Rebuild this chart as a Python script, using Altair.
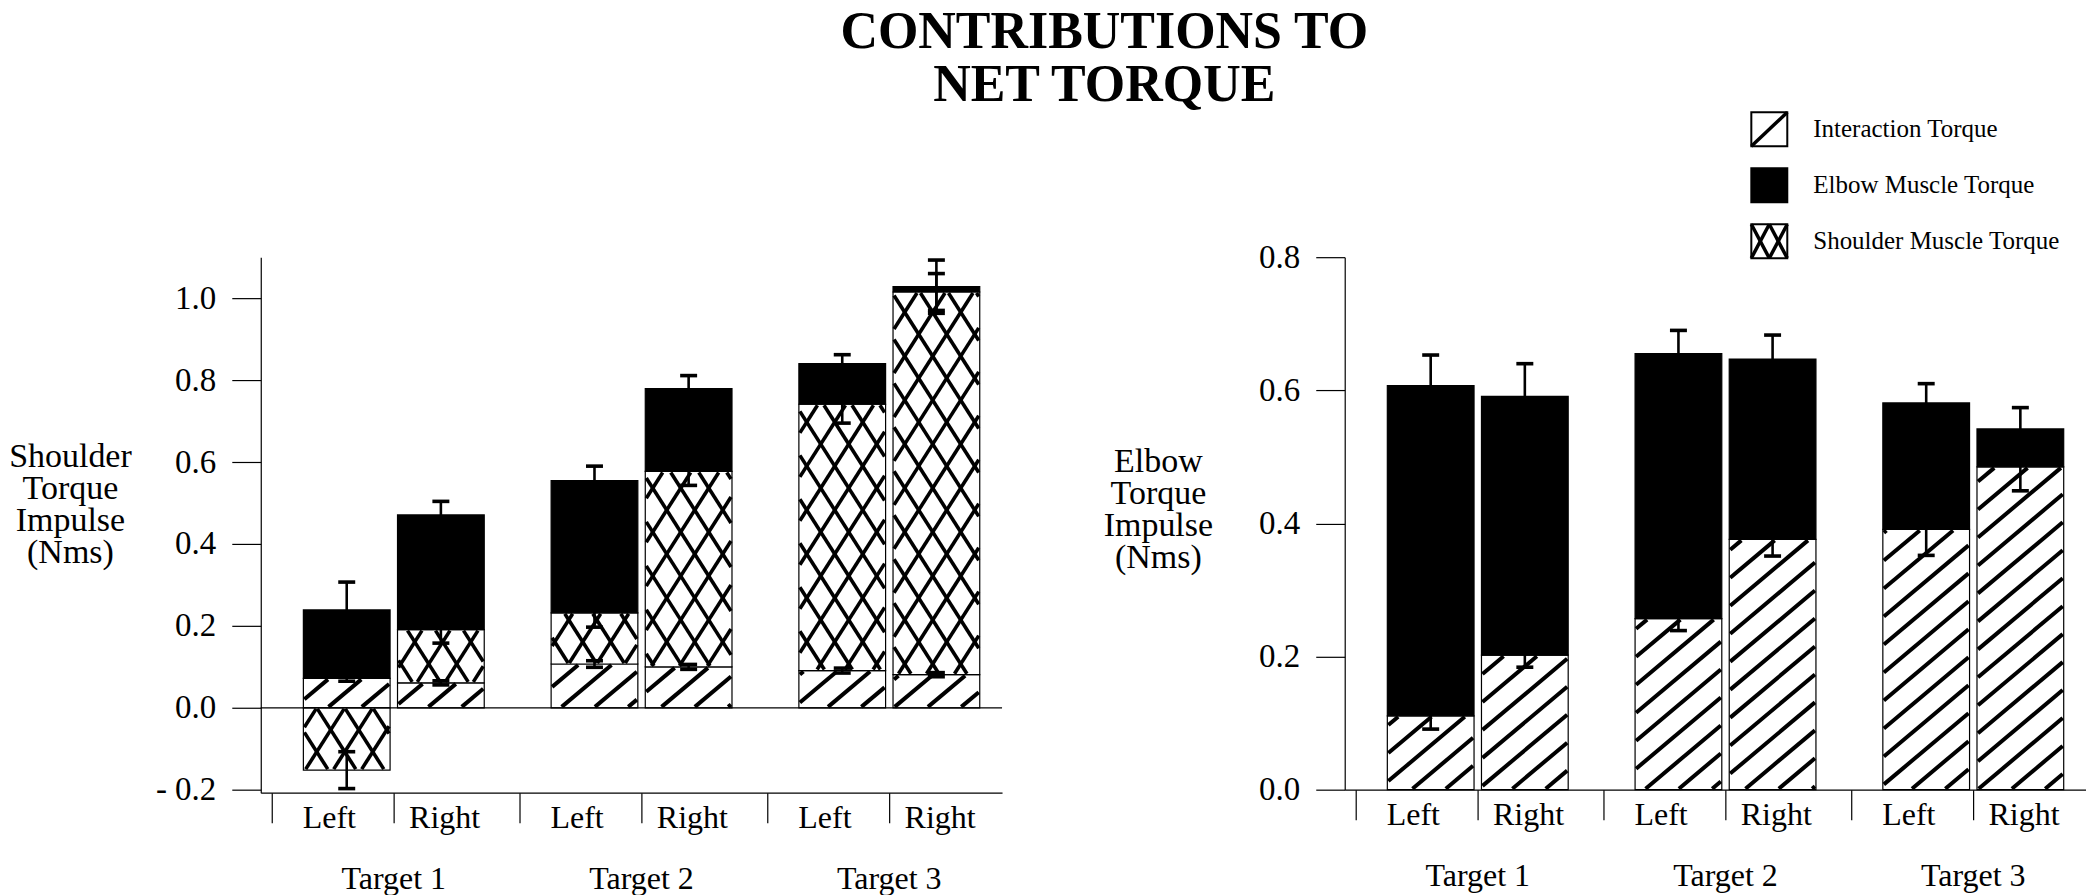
import math
import altair as alt
import pandas as pd

# ---------------- data ----------------
targets = ["Target 1", "Target 2", "Target 3"]
sides = ["Left", "Right"]
legend_labels = ["Interaction Torque", "Elbow Muscle Torque", "Shoulder Muscle Torque"]

# bar order: T1 Left, T1 Right, T2 Left, T2 Right, T3 Left, T3 Right
sh_interaction = [0.072, 0.061, 0.107, 0.100, 0.091, 0.081]
sh_shoulder = [-0.152, 0.130, 0.125, 0.477, 0.650, 0.934]
sh_elbow = [0.167, 0.280, 0.323, 0.202, 0.099, 0.013]
sh_interaction_err = [0.007, 0.005, 0.008, 0.006, 0.006, 0.005]
sh_shoulder_err = [0.045, 0.033, 0.035, 0.034, 0.046, 0.045]
sh_elbow_err = [0.068, 0.033, 0.035, 0.032, 0.022, 0.065]

el_interaction = [0.111, 0.202, 0.257, 0.376, 0.391, 0.485]
el_elbow = [0.496, 0.389, 0.398, 0.271, 0.190, 0.057]
el_interaction_err = [0.020, 0.018, 0.018, 0.025, 0.039, 0.036]
el_elbow_err = [0.046, 0.049, 0.035, 0.036, 0.029, 0.032]

sh_yticks = [-0.2, 0.0, 0.2, 0.4, 0.6, 0.8, 1.0]
el_yticks = [0.0, 0.2, 0.4, 0.6, 0.8]

# ---------------- layout constants ----------------
FONT = "Liberation Serif"
PW = 742            # plot width (px)
XW = 2.992          # x domain (group steps)
STEP, BAR0, BARW, BARGAP = 1.0, 0.172, 0.35, 0.03
CAPW = 0.0685
LH, L_DOM = 536, [-0.207, 1.1]
RH, R_DOM = 533, [0.0, 0.8]
XS = PW / XW

bars = []
for g, t in enumerate(targets):
    for s, side in enumerate(sides):
        x0 = g * STEP + BAR0 + s * (BARW + BARGAP)
        bars.append((t, side, x0, x0 + BARW))


def stack(components):
    rows = []
    for i, (t, side, x0, x1) in enumerate(bars):
        pos = neg = 0.0
        for name, vals, errs in components:
            v = vals[i]
            if v >= 0:
                y0, y1 = pos, pos + v
                pos = y1
            else:
                y0, y1 = neg, neg + v
                neg = y1
            rows.append(dict(target=t, side=side, comp=name, x0=x0, x1=x1,
                             y0=y0, y1=y1, err=errs[i], xc=(x0 + x1) / 2))
    return pd.DataFrame(rows)


def seg_lines(X0, X1, Y0, Y1, s, d):
    cs = [Y - s * X for X in (X0, X1) for Y in (Y0, Y1)]
    cmin, cmax = min(cs), max(cs)
    out = []
    for k in range(math.ceil(cmin / d), math.floor(cmax / d) + 1):
        c = k * d
        xa, xb = (Y0 - c) / s, (Y1 - c) / s
        a = max(X0, min(xa, xb))
        b = min(X1, max(xa, xb))
        if b - a > 0.5:
            out.append((a, s * a + c, b, s * b + c))
    return out


def pattern_df(df, comp, ys, families):
    rows = []
    for _, r in df[df.comp == comp].iterrows():
        X0, X1 = r.x0 * XS + 1, r.x1 * XS - 1
        Y0, Y1 = min(r.y0, r.y1) * ys + 1, max(r.y0, r.y1) * ys - 1
        if Y1 - Y0 < 2:
            continue
        for s, d in families:
            for a, ya, b, yb in seg_lines(X0, X1, Y0, Y1, s, d):
                rows.append(dict(x=a / XS, y=ya / ys, x2=b / XS, y2=yb / ys))
    return pd.DataFrame(rows)


def error_dfs(df):
    stems = pd.DataFrame(dict(xc=df.xc, lo=df.y1 - df.err, hi=df.y1 + df.err))
    caps = pd.concat([
        pd.DataFrame(dict(cx0=df.xc - CAPW / 2, cx1=df.xc + CAPW / 2, cy=df.y1 - df.err)),
        pd.DataFrame(dict(cx0=df.xc - CAPW / 2, cx1=df.xc + CAPW / 2, cy=df.y1 + df.err)),
    ])
    return stems, caps


def panel(df, ydom, H, yticks, ytitle, tx, ty, zero_line=False, extra=None):
    ys = H / (ydom[1] - ydom[0])
    xsc = alt.Scale(domain=[0, XW], nice=False, zero=False)
    ysc = alt.Scale(domain=ydom, nice=False, zero=False)
    xticks = [g * STEP + 0.045 for g in range(3)] + \
             [g * STEP + BAR0 + BARW + BARGAP / 2 for g in range(3)]
    xaxis = alt.Axis(values=xticks, labels=False, tickSize=30, domain=True,
                     grid=False, title=None)
    yaxis = alt.Axis(values=yticks, tickSize=29, labelPadding=16, grid=False,
                     labelExpr="datum.value < 0 ? '- ' + format(-datum.value, '.1f') : format(datum.value, '.1f')",
                     title=ytitle, titleAngle=0, titleAlign="center",
                     titleBaseline="middle", titleX=tx, titleY=ty,
                     titleFontSize=34, titleLineHeight=32)

    def X(f):
        return alt.X(f, scale=xsc, axis=xaxis)

    def Y(f):
        return alt.Y(f, scale=ysc, axis=yaxis)

    rects = alt.Chart(df).mark_rect(stroke="black", strokeWidth=1.2).encode(
        x=X("x0:Q"), x2="x1:Q", y=Y("y0:Q"), y2="y1:Q",
        fill=alt.Fill("comp:N", scale=alt.Scale(domain=legend_labels,
                                                range=["white", "black", "white"]),
                      legend=None),
    )
    layers = [rects]

    hatch = pattern_df(df, legend_labels[0], ys, [(0.84, 28.0)])
    cross = pattern_df(df, legend_labels[2], ys, [(1.57, 44.0), (-1.57, 44.0)])
    for pdf, w in ((hatch, 4.0), (cross, 3.6)):
        if len(pdf):
            layers.append(alt.Chart(pdf).mark_rule(color="black", strokeWidth=w, strokeCap="butt").encode(
                x=X("x:Q"), x2="x2:Q", y=Y("y:Q"), y2="y2:Q"))

    if zero_line:
        layers.append(alt.Chart(pd.DataFrame({"z": [0.0]})).mark_rule(color="black", strokeWidth=1.2)
                      .encode(y=Y("z:Q")))

    stems, caps = error_dfs(df)
    layers.append(alt.Chart(stems).mark_rule(color="black", strokeWidth=2.6).encode(
        x=X("xc:Q"), y=Y("lo:Q"), y2="hi:Q"))
    layers.append(alt.Chart(caps).mark_rule(color="black", strokeWidth=3.6).encode(
        x=X("cx0:Q"), x2="cx1:Q", y=Y("cy:Q")))

    # category labels under the axis
    lab = pd.DataFrame([dict(label=side, xl=(x0 + x1) / 2 + (-0.07 if side == "Left" else 0.015))
                        for (t, side, x0, x1) in bars])
    layers.append(alt.Chart(lab).mark_text(font=FONT, fontSize=32, baseline="alphabetic",
                                           align="center", color="black").encode(
        x=X("xl:Q"), y=alt.value(H + 35), text="label:N"))
    tl = pd.DataFrame([dict(label=t, xl=g * STEP + BAR0 + BARW + BARGAP / 2)
                       for g, t in enumerate(targets)])
    layers.append(alt.Chart(tl).mark_text(font=FONT, fontSize=32, baseline="alphabetic",
                                          align="center", color="black").encode(
        x=X("xl:Q"), y=alt.value(H + 96), text="label:N"))
    if extra:
        layers.extend(extra)
    return alt.layer(*layers).properties(width=PW, height=H)


# ---------------- legend (drawn above the right panel) ----------------
one = pd.DataFrame({"a": [0]})
leg = []
LX0, LX1, TX = 407, 443, 469
for i, name in enumerate(legend_labels):
    cy = -128 + i * 56
    top, bot = cy - 17, cy + 17
    leg.append(alt.Chart(one).mark_rect(fill="black" if i == 1 else "white", stroke="black",
                                        strokeWidth=2).encode(
        x=alt.value(LX0), x2=alt.value(LX1), y=alt.value(top), y2=alt.value(bot)))
    if i == 0:
        segs = [(LX0, bot, LX1, top)]
    elif i == 2:
        mid = (LX0 + LX1) / 2
        segs = [(LX0, top, mid, bot), (mid, bot, LX1, top), (LX0, bot, mid, top), (mid, top, LX1, bot)]
    else:
        segs = []
    for (a, b, c, d) in segs:
        leg.append(alt.Chart(one).mark_rule(color="black", strokeWidth=3.5).encode(
            x=alt.value(a), y=alt.value(b), x2=alt.value(c), y2=alt.value(d)))
    leg.append(alt.Chart(one).mark_text(text=name, font=FONT, fontSize=25, align="left",
                                        baseline="middle", color="black").encode(
        x=alt.value(TX), y=alt.value(cy)))

sh_df = stack([(legend_labels[0], sh_interaction, sh_interaction_err),
               (legend_labels[2], sh_shoulder, sh_shoulder_err),
               (legend_labels[1], sh_elbow, sh_elbow_err)])
el_df = stack([(legend_labels[0], el_interaction, el_interaction_err),
               (legend_labels[1], el_elbow, el_elbow_err)])

left = panel(sh_df, L_DOM, LH, sh_yticks, ["Shoulder", "Torque", "Impulse", "(Nms)"],
             -191, 200, zero_line=True)
right = panel(el_df, R_DOM, RH, el_yticks, ["Elbow", "Torque", "Impulse", "(Nms)"],
              -187, 205, extra=leg)

chart = alt.hconcat(left, right, spacing=343, bounds="flush").properties(
    title=alt.TitleParams(["CONTRIBUTIONS TO", "NET TORQUE"], font=FONT, fontSize=52,
                          fontWeight="bold", lineHeight=53, anchor="middle", dx=57,
                          offset=-1, color="black"),
    padding={"left": 0, "top": -3, "right": 0, "bottom": 0},
    background="white",
).configure_view(stroke=None).configure_axis(
    labelFont=FONT, labelFontSize=33, labelColor="black", titleFont=FONT,
    titleColor="black", titleFontWeight="normal", domainColor="black",
    domainWidth=1.2, tickColor="black", tickWidth=1.2,
)

chart.save("out.html", embed_options={"renderer": "svg", "actions": False})
